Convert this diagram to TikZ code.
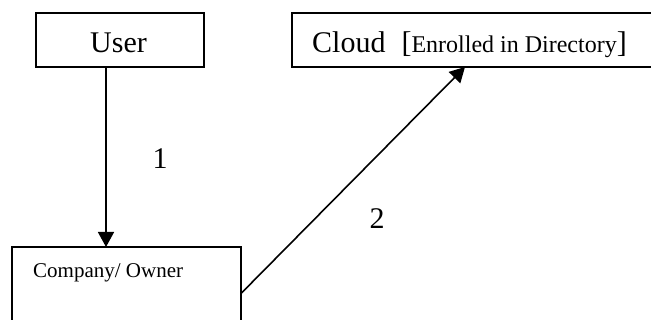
\documentclass[tikz,border=0pt]{standalone}
\usepackage{fontspec}
\setmainfont{Liberation Serif}
\usetikzlibrary{arrows.meta,calc}

\tikzset{
  box/.style={draw, line width=1.6pt, rectangle, inner sep=0pt, outer sep=0pt},
  link/.style={line width=1.6pt, -{Triangle[length=15pt,width=16pt]}},
  big/.style={font=\fontsize{30}{34}\selectfont},
  small/.style={font=\fontsize{21}{24}\selectfont},
}

\begin{document}
\begin{tikzpicture}[x=1pt,y=-1pt]
  \useasboundingbox (0,0) rectangle (651,320);
  \clip (0,0) rectangle (651,320);

  % the three parties
  \node[box, minimum width=168pt, minimum height=54pt] (user) at (120,40) {};
  \node[box, minimum width=368pt, minimum height=54pt] (cloud) at (476,40) {};
  \node[box, minimum width=229pt, minimum height=93pt] (company) at (126.5,293.5) {};

  % box captions
  \node[big, anchor=base, inner sep=0pt] (usertxt) at (118.5,53) {User};
  \node[big, anchor=base west, inner sep=0pt] (cloudtxt) at (312,53)
    {Cloud\hspace{16pt}[{\fontsize{24}{28}\selectfont Enrolled in Directory}]};
  \node[small, anchor=base west, inner sep=0pt] (comptxt) at (33,278) {Company/ Owner};

  % message flow
  \draw[link] ([xshift=-14pt]user.south) -- ([xshift=-14pt]user.south |- company.north);
  \draw[link] (company.east) -- ([xshift=-11pt]cloud.south);

  % step numbers
  \node[big, anchor=base, inner sep=0pt] (one) at (160,169) {1};
  \node[big, anchor=base, inner sep=0pt] (two) at (377,229) {2};
\end{tikzpicture}
\end{document}
